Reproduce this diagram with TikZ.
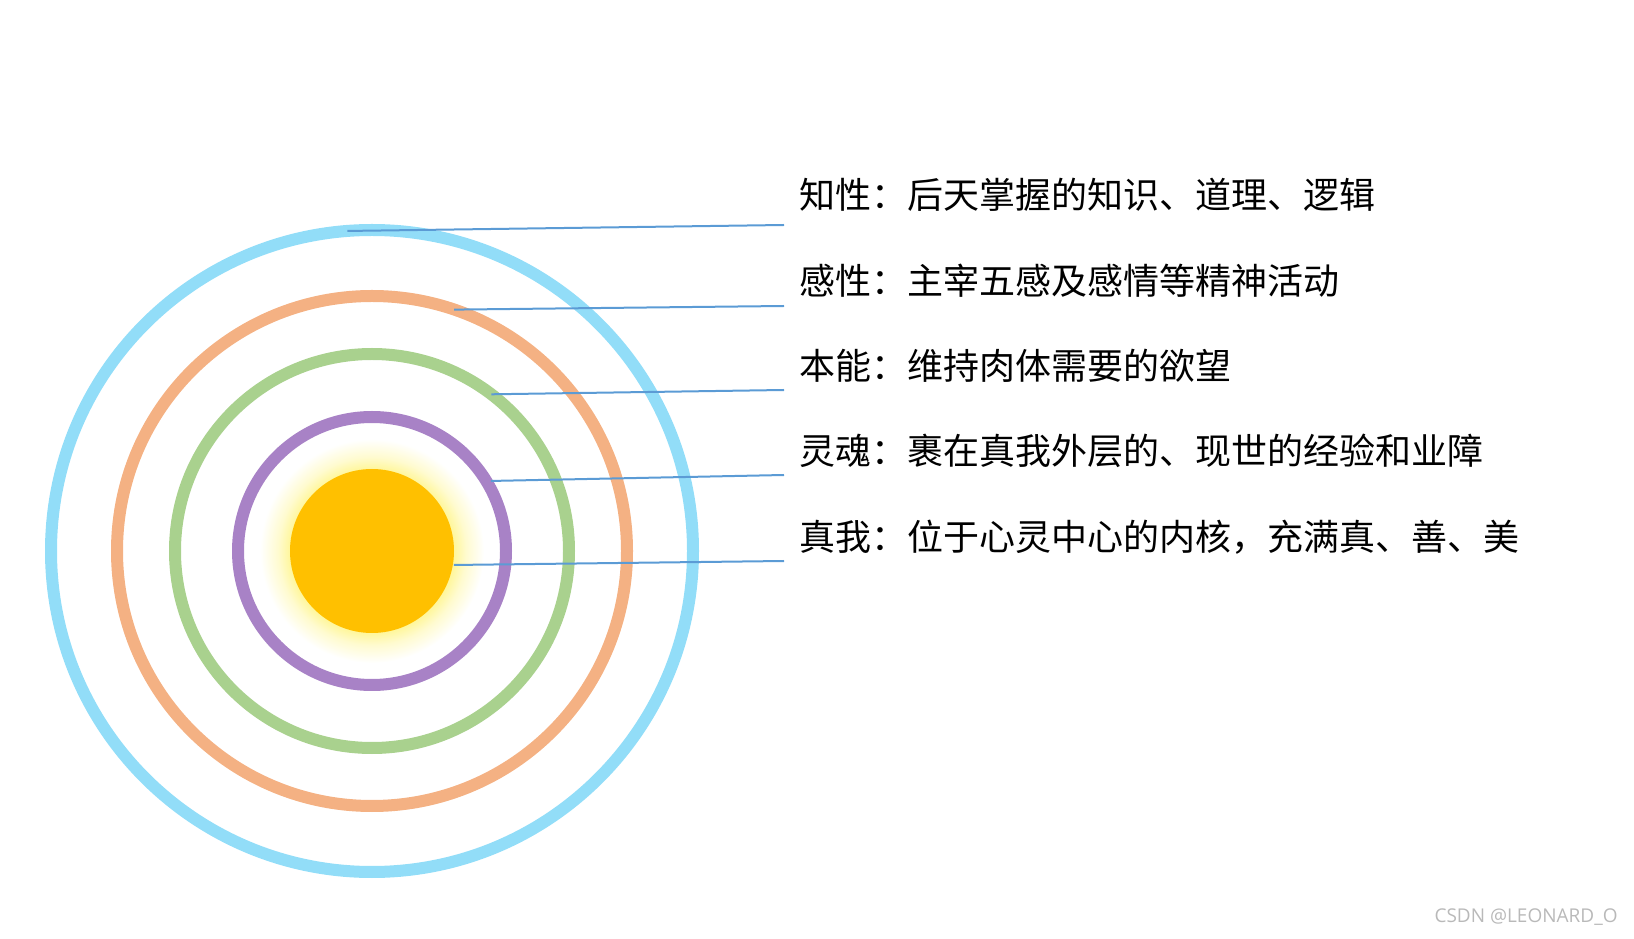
\documentclass[tikz,border=0pt]{standalone}
\usepackage{fontspec}
\newfontfamily\cjk{Noto Sans CJK SC}
\newfontfamily\wmfont{Open Sans}
\usetikzlibrary{calc}
\definecolor{ringblue}{RGB}{146,221,248}
\definecolor{ringorange}{RGB}{244,177,131}
\definecolor{ringgreen}{RGB}{169,209,142}
\definecolor{ringpurple}{RGB}{168,130,198}
\definecolor{suncol}{RGB}{255,192,0}
\definecolor{glowcol}{RGB}{255,246,150}
\definecolor{leadcol}{RGB}{91,155,213}
\definecolor{markcol}{RGB}{185,185,185}
\pgfdeclareradialshading{sunglow}{\pgfpoint{0bp}{0bp}}{color(0bp)=(glowcol); color(18bp)=(glowcol); color(21bp)=(glowcol!45!white); color(25bp)=(white); color(50bp)=(white)}

\begin{document}
\begin{tikzpicture}[x=0.5pt,y=0.5pt,
   ring/.style={line width=6pt},
   lead/.style={leadcol,line width=1pt},
   lbl/.style={anchor=west,inner sep=0pt,font=\cjk\fontsize{18}{20}\selectfont}]
  \useasboundingbox (0,0) rectangle (1634,938);
  % ---------- core and rings ----------
  \coordinate (c) at (372,387);
  \shade[shading=sunglow] (c) circle[radius=112];
  \fill[suncol] (c) circle[radius=82];
  \draw[ring,ringpurple] (c) circle[radius=134];
  \draw[ring,ringgreen]  (c) circle[radius=197];
  \draw[ring,ringorange] (c) circle[radius=255];
  \draw[ring,ringblue]   (c) circle[radius=321];
  % points on the rings where the leaders start
  \coordinate (p1) at ($(c)+(94.4:321)$);
  \coordinate (p2) at ($(c)+(71.2:255)$);
  \coordinate (p3) at ($(c)+(52.7:197)$);
  \coordinate (p4) at ($(c)+(30.5:138)$);
  \coordinate (p5) at ($(c)+(-9.7:83)$);
  % ---------- labels ----------
  \node[lbl] (k1) at (799,743) {知性：后天掌握的知识、道理、逻辑};
  \node[lbl] (k2) at (799,657) {感性：主宰五感及感情等精神活动};
  \node[lbl] (k3) at (799,572) {本能：维持肉体需要的欲望};
  \node[lbl] (k4) at (799,487) {灵魂：裹在真我外层的、现世的经验和业障};
  \node[lbl] (k5) at (799,401) {真我：位于心灵中心的内核，充满真、善、美};
  % leader ends, just below left of each label
  \coordinate (e1) at (784,713);
  \coordinate (e2) at (784,632);
  \coordinate (e3) at (784,548);
  \coordinate (e4) at (784,463);
  \coordinate (e5) at (784,377);
  \draw[lead] (p1) -- (e1);
  \draw[lead] (p2) -- (e2);
  \draw[lead] (p3) -- (e3);
  \draw[lead] (p4) -- (e4);
  \draw[lead] (p5) -- (e5);
  % watermark
  \node[anchor=east,inner sep=0pt,text=markcol,font=\wmfont\fontsize{9.5}{11}\selectfont] (wm) at (1618,21) {CSDN @LEONARD\_O};
\end{tikzpicture}
\end{document}
